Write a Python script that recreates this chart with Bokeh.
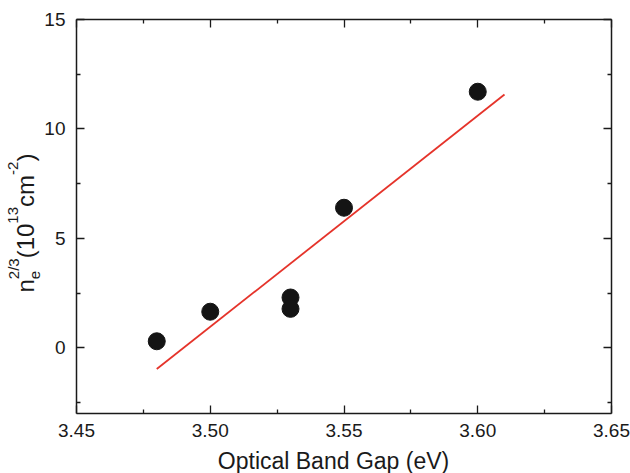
import math
from bokeh.plotting import figure
from bokeh.models import Range1d, FixedTicker, LinearAxis, Label
from bokeh.embed import file_html
from bokeh.resources import INLINE

# ---- data ----
band_gap = [3.48, 3.50, 3.53, 3.53, 3.55, 3.60]
ne_23 = [0.30, 1.65, 2.30, 1.78, 6.40, 11.70]
fit_x = [3.48, 3.61]
fit_y = [-0.97, 11.57]

x_major = [3.45, 3.50, 3.55, 3.60, 3.65]
x_minor = [3.475, 3.525, 3.575, 3.625]
x_labels = ["3.45", "3.50", "3.55", "3.60", "3.65"]
y_major = [0, 5, 10, 15]
y_minor = [-2.5, 2.5, 7.5, 12.5]
y_labels = ["0", "5", "10", "15"]
x_title = "Optical Band Gap (eV)"

FONT = "Liberation Sans"
INK = "#1a1a1a"

W, H = 630, 473
X0, X1 = 3.45, 3.65          # axis box limits
Y0, Y1 = -3.0, 15.0
BOX_L, BOX_R, BOX_T, BOX_B = 76, 611, 19, 413   # box edges in page pixels

kx = (BOX_R - BOX_L) / (X1 - X0)
ky = (BOX_B - BOX_T) / (Y1 - Y0)
xr = Range1d(X0 - BOX_L / kx, X1 + (W - BOX_R) / kx)
yr = Range1d(Y0 - (H - BOX_B) / ky, Y1 + BOX_T / ky)

p = figure(width=W, height=H, x_range=xr, y_range=yr,
           output_backend="svg", toolbar_location=None,
           x_axis_location=None, y_axis_location=None,
           min_border=0, min_border_left=0, min_border_right=0,
           min_border_top=0, min_border_bottom=0)
p.grid.visible = False
p.outline_line_color = None
p.background_fill_color = "white"
p.border_fill_color = "white"


def make_axis(loc, bounds, ticks, minor, labels):
    ax = LinearAxis(fixed_location=loc, bounds=bounds,
                    ticker=FixedTicker(ticks=ticks, minor_ticks=minor))
    ax.axis_line_color = INK
    ax.axis_line_width = 1.5
    ax.major_tick_in = 8
    ax.major_tick_out = 0
    ax.minor_tick_in = 4
    ax.minor_tick_out = 0
    ax.major_tick_line_color = INK
    ax.minor_tick_line_color = INK
    ax.major_tick_line_width = 1.3
    ax.minor_tick_line_width = 1.3
    ax.major_label_text_font = FONT
    ax.major_label_text_font_size = "19px"
    if labels is None:
        ax.major_label_text_color = None
    else:
        ax.major_label_text_color = INK
        ax.major_label_overrides = {v: s for v, s in zip(ticks, labels)}
    return ax


bottom = make_axis(Y0, (X0, X1), x_major, x_minor, x_labels)
bottom.major_label_standoff = 10
p.add_layout(bottom, "below")
left = make_axis(X0, (Y0, Y1), y_major, y_minor, y_labels)
left.major_label_standoff = 11
p.add_layout(left, "left")
top = make_axis(Y1, (X0, X1), x_major, x_minor, None)
p.add_layout(top, "above")
right = make_axis(X1, (Y0, Y1), y_major, y_minor, None)
p.add_layout(right, "right")

p.line(fit_x, fit_y, line_color="#e5332a", line_width=1.8)
p.scatter(band_gap, ne_23, size=17, fill_color="#141414", line_color="#141414")


def px_x(page_x):
    return xr.start + page_x / kx


def px_y(page_y):
    return yr.end - page_y / ky


SHIFT = 0.3   # baseline correction, in em

# x axis title (baseline at page y 467)
TS = 23
p.add_layout(Label(x=px_x(333), y=px_y(467 - SHIFT * TS), text=x_title, text_font=FONT,
                   text_font_size=f"{TS}px", text_color=INK, text_align="center",
                   text_baseline="alphabetic"))

# y axis title built from pieces (reads bottom to top)
M, S = 24, 15
wid = {"n": 556, "e": 556, "2": 556, "/": 278, "3": 556, "(": 333, "1": 556,
       "0": 556, "c": 500, "m": 833, "-": 333, ")": 333}


def adv(s, size):
    return sum(wid[c] for c in s) * size / 1000.0


pieces = [  # (text, size, baseline page x, stacked with next)
    ("n", M, 32, False),
    ("e", S, 39, True),
    ("2/3", S, 17, False),
    ("(10", M, 32, False),
    ("13", S, 17, False),
    ("cm", M, 32, False),
    ("-2", S, 17, False),
    (")", M, 32, False),
]
y_cur = 292.0
stack_adv = 0.0
for txt, size, bx, stacked in pieces:
    p.add_layout(Label(x=px_x(bx - SHIFT * size), y=px_y(y_cur), text=txt, text_font=FONT,
                       text_font_size=f"{size}px", text_color=INK, angle=math.pi / 2,
                       text_align="left", text_baseline="alphabetic"))
    a = adv(txt, size)
    if stacked:
        stack_adv = a
        continue
    y_cur -= max(a, stack_adv)
    stack_adv = 0.0

open("out.html", "w").write(file_html(p, INLINE))
